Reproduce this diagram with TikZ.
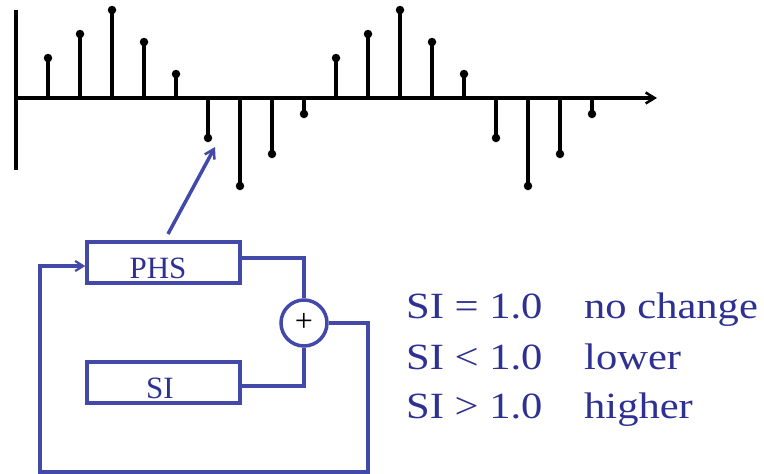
\documentclass[tikz,border=0pt]{standalone}
\usepackage{fontspec}
\setmainfont{Liberation Serif}
\usetikzlibrary{arrows.meta}
\definecolor{lineblue}{RGB}{67,73,168}
\definecolor{textblue}{RGB}{46,49,146}
\newcommand{\wide}[1]{\scalebox{1.15}[1]{#1}}
\tikzset{
  stem/.style={line width=3.5pt,black},
  dotmark/.style={circle,fill=black,inner sep=0pt,minimum size=8.5pt},
  bline/.style={line width=3.5pt,lineblue},
  blockbox/.style={draw=lineblue,line width=3.5pt,minimum width=153pt,minimum height=41pt,inner sep=0pt},
  btext/.style={text=textblue,font=\fontsize{31}{31}\selectfont},
  rtext/.style={text=textblue,font=\fontsize{37}{37}\selectfont,anchor=base west,inner sep=0pt},
}
\begin{document}
\begin{tikzpicture}[x=1pt,y=-1pt]
\useasboundingbox (0,0) rectangle (764,474);
% axes
\coordinate (vtop) at (16,10);
\coordinate (vbot) at (16,170);
\coordinate (hstart) at (16,98);
\coordinate (hend) at (657,98);
\draw[line width=4pt] (vtop) -- (vbot);
\draw[line width=3.5pt,-{Straight Barb[length=9pt,width=11pt,line width=2.5pt]}] (hstart) -- (hend);
% stems
\foreach \i/\x/\y in {1/48/58,2/80/34,3/112/10,4/144/42,5/176/74,6/208/138,7/240/186,8/272/154,9/304/114,
  10/336/58,11/368/34,12/400/10,13/432/42,14/464/74,15/496/138,16/528/186,17/560/154,18/592/114}{
  \coordinate (b\i) at (\x,98);
  \node[dotmark] (d\i) at (\x,\y) {};
  \draw[stem] (b\i) -- (d\i.center);
}
% blocks
\node[blockbox] (phs) at (163.5,262.5) {};
\node[btext,anchor=base] (phstxt) at (158,278) {PHS};
\node[blockbox] (si) at (163.5,382.5) {};
\node[btext,anchor=base] (sitxt) at (160,398) {SI};
\node[circle,draw=lineblue,line width=3.5pt,minimum size=46pt,inner sep=0pt] (sum) at (304,323) {};
\node[font=\fontsize{32}{32}\selectfont,inner sep=0pt] (plus) at (304,322) {+};
% connectors
\coordinate (arrtip) at (215,147);
\coordinate (arrstart) at (168,234);
\draw[bline,-{Straight Barb[length=9pt,width=11pt,line width=2.5pt]}] (arrstart) -- (arrtip);
\draw[bline] (phs.east |- 0,258) -| (sum.north);
\draw[bline] (si.east |- 0,386) -| (sum.south);
\coordinate (c1) at (368,323);
\coordinate (c2) at (368,472);
\coordinate (c3) at (40,472);
\coordinate (c4) at (40,266);
\draw[bline,-{Straight Barb[length=8pt,width=10pt,line width=2.2pt]}] (sum.east) -- (c1) -- (c2) -- (c3) -- (c4) -- (phs.west |- c4);
% legend
\node[rtext] (l1) at (406,318) {\wide{SI = 1.0}};
\node[rtext] (r1) at (584,318) {\wide{no change}};
\node[rtext] (l2) at (406,369) {\wide{SI < 1.0}};
\node[rtext] (r2) at (584,369) {\wide{lower}};
\node[rtext] (l3) at (406,418) {\wide{SI > 1.0}};
\node[rtext] (r3) at (584,418) {\wide{higher}};
\end{tikzpicture}
\end{document}
